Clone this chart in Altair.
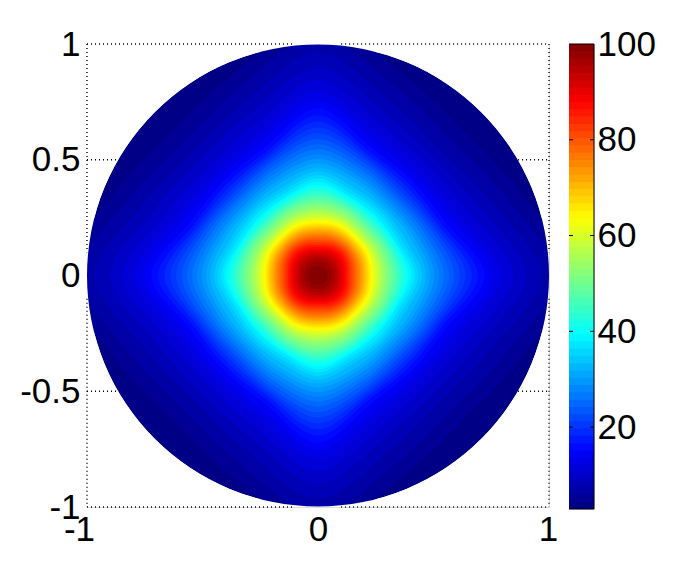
import math
import altair as alt
import pandas as pd

# lower bound of each of the 64 colour bands
LEVELS = [2.9, 4.5, 6.0, 7.5, 9.1, 10.6, 12.1, 13.6, 15.1, 16.6, 18.2, 19.7, 21.2, 22.7, 24.2, 25.7,
          27.3, 28.8, 30.3, 31.8, 33.3, 34.8, 36.4, 37.9, 39.4, 40.9, 42.4, 43.9, 45.4, 47.0, 48.5, 50.0,
          51.5, 53.0, 54.6, 56.1, 57.6, 59.1, 60.6, 62.1, 63.6, 65.2, 66.7, 68.2, 69.7, 71.2, 72.7, 74.3,
          75.8, 77.3, 78.8, 80.3, 81.8, 83.3, 84.9, 86.4, 87.9, 89.4, 90.9, 92.4, 94.0, 95.5, 97.0, 98.5, 100.0]

# radius of each iso-value contour (level 1..63) on the axis, at 22.5 degrees, on the diagonal
R_AXIS = [1.10, 1.03, .965, .90, .845, .795, .755, .722, .692, .665, .639, .614, .590, .567, .545, .524,
          .504, .485, .467, .450, .434, .419, .405, .392, .380, .368, .357, .346, .335, .324, .313, .302,
          .291, .282, .273, .264, .255, .247, .239, .232, .225, .218, .211, .204, .197, .190, .183, .176,
          .168, .160, .152, .145, .137, .130, .123, .115, .108, .100, .092, .084, .073, .060, .042]
R_MID = [.945, .88, .815, .76, .71, .665, .63, .60, .58, .565, .552, .539, .526, .51, .495, .479,
         .463, .447, .431, .41, .395, .381, .368, .361, .353, .345, .337, .329, .321, .313, .305, .296,
         .285, .277, .270, .262, .255, .248, .241, .234, .228, .221, .214, .207, .201, .194, .187, .180,
         .173, .166, .159, .152, .145, .138, .130, .122, .114, .104, .095, .085, .074, .060, .042]
R_DIAG = [.885, .82, .76, .715, .67, .63, .60, .578, .559, .542, .526, .511, .497, .483, .47, .456,
          .442, .428, .414, .401, .388, .375, .360, .352, .343, .334, .325, .316, .308, .300, .292, .284,
          .276, .268, .261, .254, .247, .241, .235, .229, .223, .217, .211, .205, .199, .193, .187, .181,
          .175, .169, .163, .157, .150, .143, .135, .126, .117, .107, .097, .087, .074, .060, .042]

X_TICKS = [-1, 0, 1]
Y_TICKS = [-1, -0.5, 0, 0.5, 1]
BAR_TICKS = [20, 40, 60, 80]
BAR_LABELS = [20, 40, 60, 80, 100]
# dotted frame pieces visible outside the disk: x1, x2, y1, y2
FRAME = [(-1, -.1, 1, 1), (.1, 1, 1, 1), (-1, -.1, -1, -1), (.1, 1, -1, -1),
         (-1, -1, 1, .1), (-1, -1, -.1, -1), (1, 1, 1, .1), (1, 1, -.1, -1),
         (-1, -.866, .5, .5), (.866, 1, .5, .5), (-1, -.866, -.5, -.5), (.866, 1, -.5, -.5)]

FONT = "Liberation Sans"
FS = 35
W, H = 462, 463


def jet(i, n=64):
    t = (i + 0.5) / n
    c = [min(1, max(0, 1.5 - abs(4 * t - k))) for k in (3, 2, 1)]
    return "#%02x%02x%02x" % tuple(round(v * 255) for v in c)


COLORS = [jet(i) for i in range(64)]

rows = []
for k in range(63):
    rs = [R_AXIS[k], R_MID[k], R_DIAG[k], R_MID[k]]
    for s in range(16):
        a = s * math.pi / 8
        r = rs[s % 4]
        rows.append(dict(level=k + 1, v=s, x=r * math.cos(a), y=r * math.sin(a)))
contours = pd.DataFrame(rows)

xs = alt.Scale(domain=[-1, 1], nice=False, zero=False)
ys = alt.Scale(domain=[-1, 1], nice=False, zero=False)
one = pd.DataFrame({"x": [0], "y": [0]})

base_disk = alt.Chart(one).mark_arc(radius=W / 2, radius2=0, theta=0, theta2=2 * math.pi,
                                    fill=COLORS[0], clip=True).encode(
    x=alt.X("x:Q", scale=xs,
            axis=alt.Axis(values=X_TICKS, title=None, grid=False, domain=False, ticks=False,
                          labelFont=FONT, labelFontSize=FS, labelColor="black", labelPadding=5,
                          labelOffset=alt.expr("datum.value == -1 ? -8 : (datum.value == 1 ? -1 : 0)"),
                          labelExpr="'' + datum.value", labelFlush=False, labelOverlap=False)),
    y=alt.Y("y:Q", scale=ys,
            axis=alt.Axis(values=Y_TICKS, title=None, grid=False, domain=False, ticks=False,
                          labelFont=FONT, labelFontSize=FS, labelColor="black", labelPadding=7,
                          labelExpr="'' + datum.value", labelFlush=False, labelOverlap=False,
                          minExtent=78, maxExtent=78)),
)

bands = alt.Chart(contours).mark_line(interpolate="cardinal-closed", filled=True, clip=True).encode(
    x=alt.X("x:Q", scale=xs),
    y=alt.Y("y:Q", scale=ys),
    order="v:Q",
    color=alt.Color("level:O", scale=alt.Scale(domain=list(range(1, 64)), range=COLORS[1:]), legend=None),
)

mask = alt.Chart(one).mark_arc(radius=W * 0.75, radius2=W / 2, theta=0, theta2=2 * math.pi,
                               fill="white", clip=True).encode(
    x=alt.X("x:Q", scale=xs), y=alt.Y("y:Q", scale=ys))

frame_df = pd.DataFrame(FRAME, columns=["x1", "x2", "y1", "y2"])
frame = alt.Chart(frame_df).mark_rule(color="black", strokeDash=[1, 3], strokeWidth=1.4).encode(
    x=alt.X("x1:Q", scale=xs), x2="x2:Q", y=alt.Y("y1:Q", scale=ys), y2="y2:Q")

main = alt.layer(base_disk, bands, mask, frame).properties(width=W, height=H)

bar_df = pd.DataFrame({"lo": LEVELS[:-1], "hi": [100.0] * 64, "i": list(range(64))})
bar_y = alt.Scale(domain=[LEVELS[0], 100], nice=False, zero=False)
bar_x = alt.Scale(domain=[0, 1], nice=False, zero=False)
bar_rects = alt.Chart(bar_df).mark_rect().encode(
    x=alt.value(0), x2=alt.value(25),
    y=alt.Y("lo:Q", scale=bar_y,
            axis=alt.Axis(values=BAR_LABELS, orient="right", title=None, grid=False, domain=False, ticks=False,
                          labelFont=FONT, labelFontSize=FS, labelColor="black", labelPadding=3,
                          labelExpr="'' + datum.value", labelFlush=False, labelOverlap=False)),
    y2="hi:Q",
    color=alt.Color("i:O", scale=alt.Scale(domain=list(range(64)), range=COLORS), legend=None),
)
tick_df = pd.DataFrame([dict(a=p, b=q, v=t) for t in BAR_TICKS for p, q in ((0, .16), (.84, 1))])
bar_ticks = alt.Chart(tick_df).mark_rule(color="black", strokeWidth=1).encode(
    x=alt.X("a:Q", scale=bar_x, axis=None), x2="b:Q", y=alt.Y("v:Q", scale=bar_y))
edge_df = pd.DataFrame({"a": [0, 0, 1], "b": [1, 1, 1], "v": [LEVELS[0], 100, LEVELS[0]], "w": [LEVELS[0], 100, 100]})
bar_edges = alt.Chart(edge_df).mark_rule(color="black", strokeWidth=1).encode(
    x=alt.X("a:Q", scale=bar_x, axis=None), x2="b:Q", y=alt.Y("v:Q", scale=bar_y), y2="w:Q")
colorbar = alt.layer(bar_rects, bar_ticks, bar_edges).resolve_scale(color="independent").properties(width=25, height=465)

chart = alt.hconcat(main, colorbar, spacing=9).properties(padding={"left": 0, "top": 18, "right": 0, "bottom": 0}).configure_view(stroke=None).configure(background="white")
chart.save("out.html", embed_options={"renderer": "svg", "actions": False})
